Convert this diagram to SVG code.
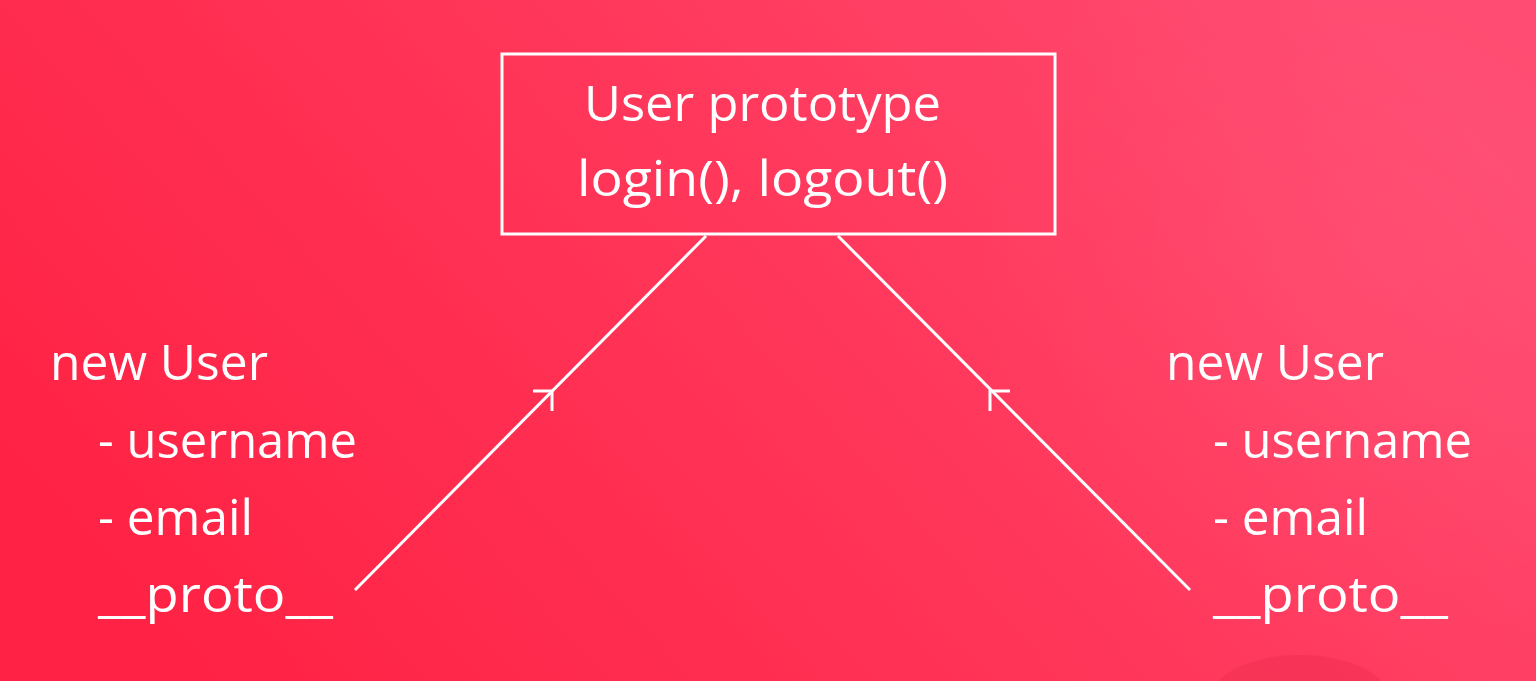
<svg xmlns="http://www.w3.org/2000/svg" width="1536" height="681" viewBox="0 0 1536 681">
<defs>
<linearGradient id="bg" x1="0" y1="0.7" x2="1" y2="0.3">
<stop offset="0" stop-color="#ff2244"/>
<stop offset="0.45" stop-color="#ff3356"/>
<stop offset="1" stop-color="#ff4a70"/>
</linearGradient>
<radialGradient id="blob" cx="0.5" cy="0.5" r="0.5">
<stop offset="0" stop-color="#ffffff" stop-opacity="0.04"/>
<stop offset="1" stop-color="#ffffff" stop-opacity="0"/>
</radialGradient>
</defs>
<style>
text{font-family:"Open Sans","Noto Sans","Liberation Sans",sans-serif;fill:#ffffff;font-size:50px}
.c{text-anchor:middle}
.ln{stroke:#ffffff;stroke-width:3;fill:none;stroke-linecap:butt}
</style>
<rect width="1536" height="681" fill="url(#bg)"/>
<circle cx="1380" cy="260" r="420" fill="url(#blob)"/>
<ellipse cx="1300" cy="700" rx="90" ry="45" fill="#e8284a" opacity="0.35"/>
<g id="proto">
<rect x="502" y="54" width="553" height="180" fill="none" stroke="#ffffff" stroke-width="3"/>
<text x="584" y="121" textLength="357" lengthAdjust="spacingAndGlyphs">User prototype</text>
<text x="577" y="196" textLength="371" lengthAdjust="spacingAndGlyphs">login(), logout()</text>
</g>
<g id="user1">
<text x="50" y="380" textLength="218" lengthAdjust="spacingAndGlyphs">new User</text>
<text x="98" y="458" textLength="259" lengthAdjust="spacingAndGlyphs">- username</text>
<text x="98" y="535" textLength="155" lengthAdjust="spacingAndGlyphs">- email</text>
<text x="98" y="612" textLength="235" lengthAdjust="spacingAndGlyphs">__proto__</text>
</g>
<g id="user2">
<text x="1166" y="380" textLength="218" lengthAdjust="spacingAndGlyphs">new User</text>
<text x="1213" y="458" textLength="259" lengthAdjust="spacingAndGlyphs">- username</text>
<text x="1213" y="535" textLength="155" lengthAdjust="spacingAndGlyphs">- email</text>
<text x="1213" y="612" textLength="235" lengthAdjust="spacingAndGlyphs">__proto__</text>
</g>
<g id="connectors">
<path class="ln" d="M355 590 L706 236"/>
<path class="ln" d="M533 391 L552 391 L552 411"/>
<path class="ln" d="M1190 590 L838 236"/>
<path class="ln" d="M1010 391 L990 391 L990 411"/>
</g>
</svg>
